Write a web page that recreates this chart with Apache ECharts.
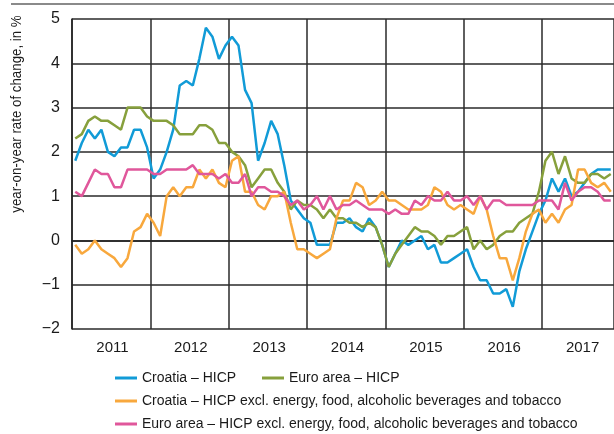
<!DOCTYPE html>
<html>
<head>
<meta charset="utf-8">
<title>HICP Croatia vs euro area</title>
<script src="https://cdn.jsdelivr.net/npm/echarts/dist/echarts.min.js"></script>
<style>
    html, body { margin: 0; padding: 0; background: #fff; }
    #chart { width: 614px; height: 434px; }
</style>
</head>
<body>
<div id="chart"></div>
<script>
// monthly data, Jan 2011 - Nov 2017
var years = ['2011', '2012', '2013', '2014', '2015', '2016', '2017'];
var monthCount = 83;

var croatiaHicp = [
    1.8, 2.2, 2.5, 2.3, 2.5, 2.0, 1.9, 2.1, 2.1, 2.5, 2.5, 2.1,
    1.4, 1.6, 2.0, 2.5, 3.5, 3.6, 3.5, 4.1, 4.8, 4.6, 4.1, 4.4,
    4.6, 4.4, 3.4, 3.1, 1.8, 2.2, 2.7, 2.4, 1.7, 0.9, 0.7, 0.5,
    0.4, -0.1, -0.1, -0.1, 0.4, 0.4, 0.5, 0.3, 0.2, 0.5, 0.3, -0.1,
    -0.6, -0.3, 0.0, -0.1, 0.0, 0.1, -0.2, -0.1, -0.5, -0.5, -0.4, -0.3,
    -0.2, -0.6, -0.9, -0.9, -1.2, -1.2, -1.1, -1.5, -0.7, -0.2, 0.2, 0.6,
    0.9, 1.4, 1.1, 1.4, 1.0, 1.1, 1.3, 1.5, 1.6, 1.6, 1.6
];
var euroHicp = [
    2.3, 2.4, 2.7, 2.8, 2.7, 2.7, 2.6, 2.5, 3.0, 3.0, 3.0, 2.8,
    2.7, 2.7, 2.7, 2.6, 2.4, 2.4, 2.4, 2.6, 2.6, 2.5, 2.2, 2.2,
    2.0, 1.9, 1.7, 1.2, 1.4, 1.6, 1.6, 1.3, 1.1, 0.7, 0.9, 0.8,
    0.8, 0.7, 0.5, 0.7, 0.5, 0.5, 0.4, 0.4, 0.3, 0.4, 0.3, -0.1,
    -0.6, -0.3, -0.1, 0.1, 0.3, 0.2, 0.2, 0.1, -0.1, 0.1, 0.1, 0.2,
    0.3, -0.2, 0.0, -0.2, -0.1, 0.1, 0.2, 0.2, 0.4, 0.5, 0.6, 1.1,
    1.8, 2.0, 1.5, 1.9, 1.4, 1.3, 1.3, 1.5, 1.5, 1.4, 1.5
];
var croatiaCore = [
    -0.1, -0.3, -0.2, 0.0, -0.2, -0.3, -0.4, -0.6, -0.4, 0.2, 0.3, 0.6,
    0.4, 0.1, 1.0, 1.2, 1.0, 1.2, 1.2, 1.6, 1.4, 1.6, 1.3, 1.2,
    1.8, 1.9, 1.1, 1.1, 0.8, 0.7, 1.0, 1.0, 1.1, 0.4, -0.2, -0.2,
    -0.3, -0.4, -0.3, -0.2, 0.5, 0.9, 0.9, 1.3, 1.2, 0.8, 0.9, 1.1,
    0.9, 0.9, 0.8, 0.7, 0.7, 0.7, 0.8, 1.2, 1.1, 0.8, 0.7, 0.8,
    0.7, 0.6, 1.0, 0.7, 0.1, -0.4, -0.4, -0.9, -0.4, 0.2, 0.6, 0.7,
    0.4, 0.6, 0.4, 0.7, 0.8, 1.6, 1.6, 1.3, 1.2, 1.3, 1.1
];
var euroCore = [
    1.1, 1.0, 1.3, 1.6, 1.5, 1.5, 1.2, 1.2, 1.6, 1.6, 1.6, 1.6,
    1.5, 1.5, 1.6, 1.6, 1.6, 1.6, 1.7, 1.5, 1.5, 1.5, 1.4, 1.5,
    1.3, 1.3, 1.5, 1.0, 1.2, 1.2, 1.1, 1.1, 1.0, 0.8, 0.9, 0.7,
    0.8, 1.0, 0.7, 1.0, 0.7, 0.8, 0.8, 0.9, 0.8, 0.7, 0.7, 0.7,
    0.6, 0.7, 0.6, 0.6, 0.9, 0.8, 1.0, 0.9, 0.9, 1.1, 0.9, 0.9,
    1.0, 0.8, 1.0, 0.7, 0.9, 0.9, 0.8, 0.8, 0.8, 0.8, 0.8, 0.9,
    0.9, 0.9, 0.7, 1.3, 0.9, 1.1, 1.2, 1.2, 1.1, 0.9, 0.9
];

var seriesNames = [
    'Croatia – HICP',
    'Euro area – HICP',
    'Croatia – HICP excl. energy, food, alcoholic beverages and tobacco',
    'Euro area – HICP excl. energy, food, alcoholic beverages and tobacco'
];
var seriesColors = ['#119bd7', '#87a03c', '#f8a83d', '#e0579b'];

// month categories, e.g. 2011-01
var months = [];
years.forEach(function (y) {
    for (var m = 1; m <= 12; m++) {
        months.push(y + '-' + (m < 10 ? '0' + m : m));
    }
});
months = months.slice(0, monthCount);

var font = '"Liberation Sans", Arial, sans-serif';
var textColor = '#1a1a1a';

var myChart = echarts.init(document.getElementById('chart'), null, { renderer: 'canvas' });

function makeLine(name, data, color) {
    return {
        name: name,
        type: 'line',
        data: data,
        symbol: 'none',
        smooth: false,
        animation: false,
        lineStyle: { color: color, width: 2.5 },
        itemStyle: { color: color }
    };
}

function makeLegend(name, left, top) {
    return {
        data: [name],
        left: left,
        top: top,
        icon: 'rect',
        itemWidth: 22,
        itemHeight: 3,
        itemGap: 6,
        padding: 0,
        selectedMode: false,
        textStyle: { fontFamily: font, fontSize: 14, color: textColor, lineHeight: 18 }
    };
}

var option = {
    backgroundColor: '#fff',
    animation: false,
    grid: { left: 72, top: 19, width: 545, height: 310 },
    legend: [
        makeLegend(seriesNames[0], 115, 369),
        makeLegend(seriesNames[1], 262, 369),
        makeLegend(seriesNames[2], 115, 392),
        makeLegend(seriesNames[3], 115, 415)
    ],
    xAxis: {
        type: 'category',
        data: months,
        boundaryGap: true,
        axisLine: { show: true, lineStyle: { color: '#222', width: 1.5 } },
        axisTick: { show: false },
        axisLabel: {
            interval: function (i) { return i % 12 === 6; },
            formatter: function (v) { return v.slice(0, 4); },
            fontFamily: font,
            fontSize: 15,
            color: textColor,
            margin: 11,
            padding: [0, 4, 0, 0]
        },
        splitLine: {
            show: true,
            interval: function (i) { return i % 12 === 0; },
            lineStyle: { color: '#2a2a2a', width: 1.5 }
        }
    },
    yAxis: {
        type: 'value',
        min: -2,
        max: 5,
        interval: 1,
        axisLine: { show: true, lineStyle: { color: '#222', width: 1.5 } },
        axisTick: { show: false },
        axisLabel: {
            formatter: function (v) { return String(v).replace('-', '\u2212'); },
            fontFamily: font,
            fontSize: 16,
            color: textColor,
            margin: 12
        },
        splitLine: { show: true, lineStyle: { color: '#2a2a2a', width: 1.5 } }
    },
    graphic: [
        {
            type: 'line',
            shape: { x1: 11, y1: 4, x2: 614, y2: 4 },
            style: { stroke: '#8a8a8a', lineWidth: 2 },
            silent: true
        },
        {
            // axis title, squeezed a little to look like the condensed original
            type: 'text',
            x: 17,
            y: 114,
            rotation: Math.PI / 2,
            scaleX: 0.95,
            style: {
                text: 'year-on-year rate of change, in %',
                fontFamily: font,
                fontSize: 14,
                fill: textColor,
                align: 'center',
                verticalAlign: 'middle'
            },
            silent: true
        }
    ],
    series: [
        makeLine(seriesNames[0], croatiaHicp, seriesColors[0]),
        makeLine(seriesNames[1], euroHicp, seriesColors[1]),
        makeLine(seriesNames[2], croatiaCore, seriesColors[2]),
        makeLine(seriesNames[3], euroCore, seriesColors[3])
    ]
};

myChart.setOption(option);
</script>
</body>
</html>
